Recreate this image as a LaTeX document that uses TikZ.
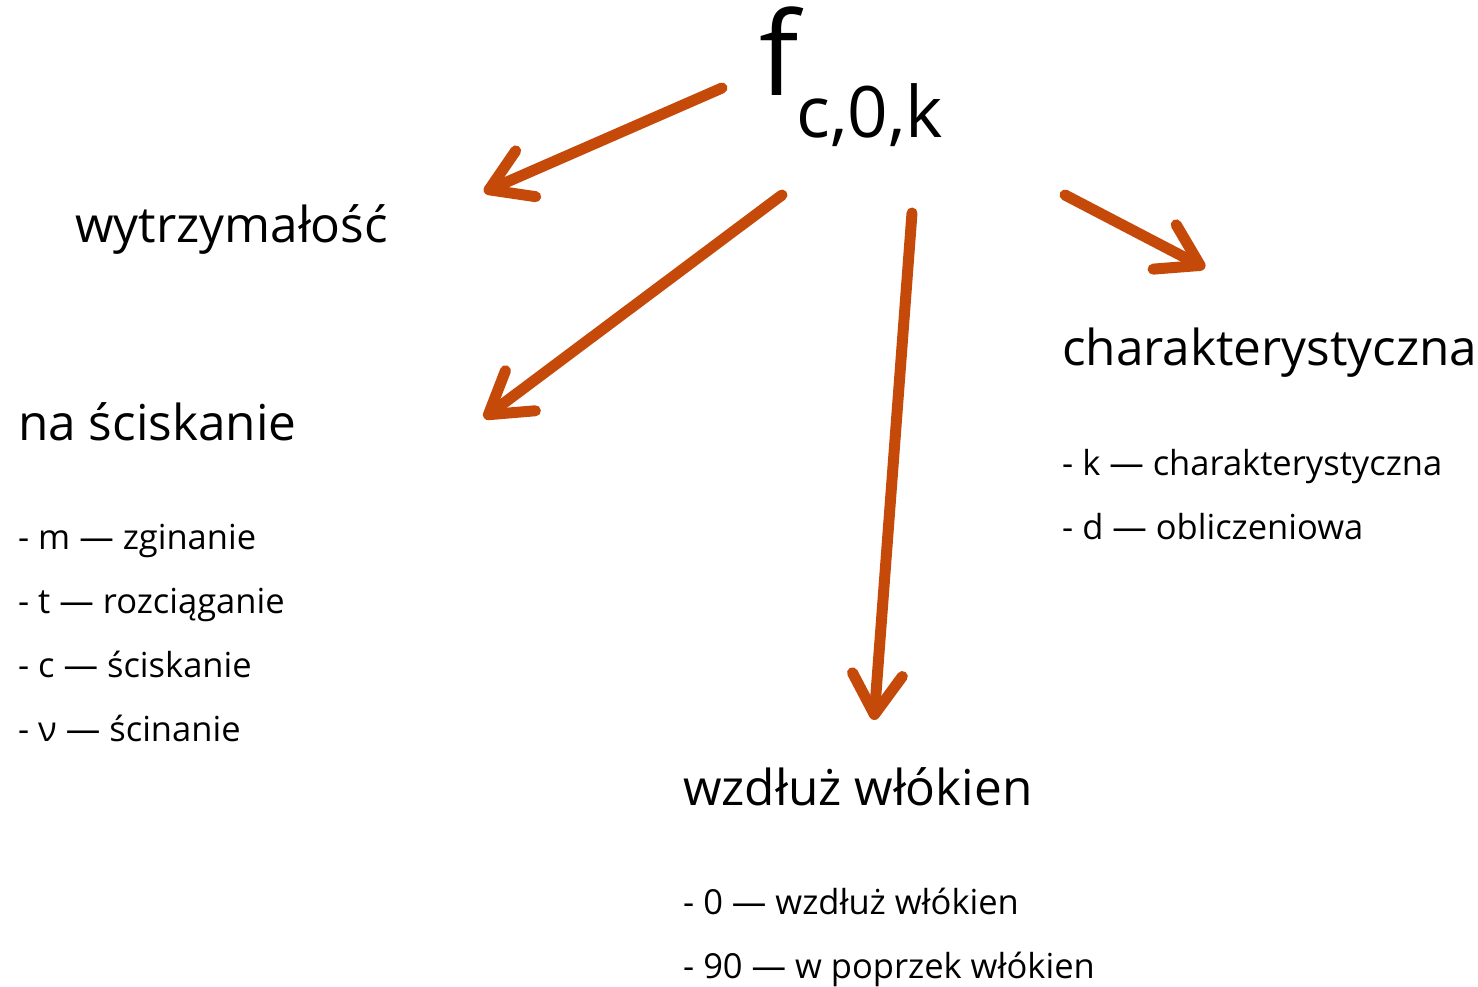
\documentclass[tikz,border=0pt]{standalone}
\usepackage{fontspec}
\setmainfont{Open Sans}
\usetikzlibrary{arrows.meta}
\definecolor{arr}{RGB}{197,74,10}
\tikzset{
  arrowline/.style={draw=arr, line width=11pt, line cap=round,
    -{Straight Barb[length=40pt,width=50pt,round]}},
  big/.style={anchor=base west, inner sep=0pt, font=\fontsize{49.5}{58}\selectfont},
  small/.style={anchor=base west, inner sep=0pt, font=\fontsize{34.5}{40}\selectfont},
}
\begin{document}
\begin{tikzpicture}[x=1pt,y=-1pt]
\useasboundingbox (0,0) rectangle (1478,987);
% title
\node[anchor=base west, inner sep=0pt, font=\fontsize{116}{140}\selectfont] (f) at (759,96) {f};
\node[anchor=base west, inner sep=0pt, font=\fontsize{71}{90}\selectfont] (sub) at (796,138) {c,0,k};
% headings
\node[big] (wytrz) at (75,243) {wytrzymałość};
\node[big] (nasc) at (18,440) {na ściskanie};
\node[big] (char) at (1062,365) {charakterystyczna};
\node[big] (wzdl) at (683,805) {wzdłuż włókien};
% lists
\node[small] (l1) at (18,549) {- m — zginanie};
\node[small] (l2) at (18,613) {- t — rozciąganie};
\node[small] (l3) at (18,677) {- c — ściskanie};
\node[small] (l4) at (18,741) {- ν — ścinanie};
\node[small] (r1) at (1062,475) {- k — charakterystyczna};
\node[small] (r2) at (1062,539) {- d — obliczeniowa};
\node[small] (b1) at (683,914) {- 0 — wzdłuż włókien};
\node[small] (b2) at (683,978) {- 90 — w poprzek włókien};
% arrow endpoints
\coordinate (a1s) at (722,88);  \coordinate (a1e) at (484,192);
\coordinate (a2s) at (782,195); \coordinate (a2e) at (484,418);
\coordinate (a3s) at (912,213); \coordinate (a3e) at (874,720);
\coordinate (a4s) at (1065,195);\coordinate (a4e) at (1205,268);
\draw[arrowline] (a1s) -- (a1e);
\draw[arrowline] (a2s) -- (a2e);
\draw[arrowline] (a3s) -- (a3e);
\draw[arrowline] (a4s) -- (a4e);
\end{tikzpicture}
\end{document}
